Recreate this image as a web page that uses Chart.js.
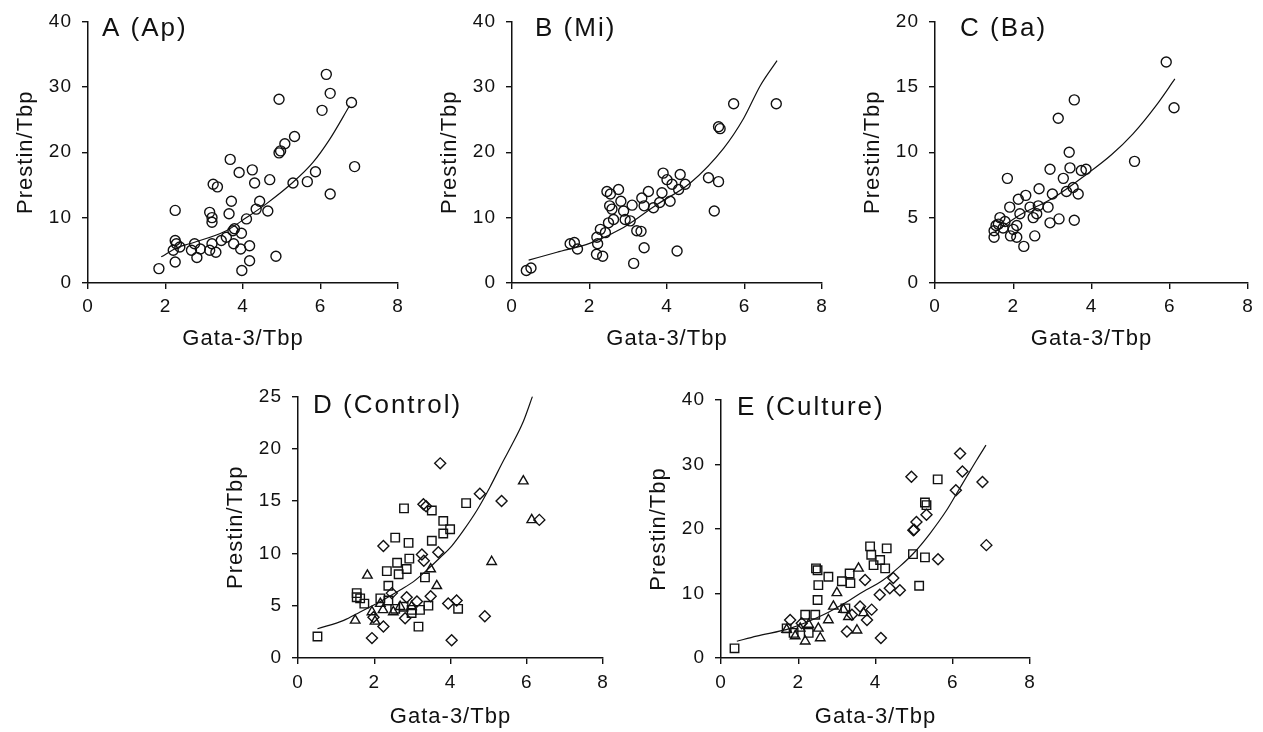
<!DOCTYPE html>
<html>
<head>
<meta charset="utf-8">
<script src="https://cdn.jsdelivr.net/npm/chart.js@4/dist/chart.umd.min.js"></script>
<style>
  body { margin: 0; background: #fff; width: 1263px; height: 732px; overflow: hidden; position: relative; }
  canvas { position: absolute; }
</style>
</head>
<body>
<canvas id="chartA" width="420" height="360" style="left:0;top:0"></canvas>
<canvas id="chartB" width="420" height="360" style="left:424px;top:0"></canvas>
<canvas id="chartC" width="416" height="360" style="left:847px;top:0"></canvas>
<canvas id="chartD" width="420" height="357" style="left:210px;top:375px"></canvas>
<canvas id="chartE" width="420" height="357" style="left:633px;top:375px"></canvas>
<script>
// panel names and axis ranges
const panelNames = ["A (Ap)", "B (Mi)", "C (Ba)", "D (Control)", "E (Culture)"];
const yMaxes = [40, 40, 20, 25, 40];
const ySteps = [10, 10, 5, 5, 10];
const xTitle = "Gata-3/Tbp";
const yTitle = "Prestin/Tbp";

// A (Ap)  [gata, prestin]
const apPts = [[1.83,2.2],[2.25,11.1],[2.25,6.5],[2.28,6.0],[2.2,5.0],[2.25,3.2],[2.37,5.5],[2.67,5.0],[2.75,6.0],
  [2.81,3.9],[2.9,5.2],[3.14,10.8],[3.2,10.0],[3.2,9.3],[3.14,5.0],[3.2,6.0],[3.3,4.7],[3.23,15.1],[3.34,14.7],
  [3.44,6.5],[3.57,7.0],[3.67,18.9],[3.7,12.5],[3.64,10.6],[3.74,8.0],[3.78,8.3],[3.76,6.0],[3.9,16.9],[3.96,7.6],
  [3.94,5.2],[3.97,1.9],[4.09,9.8],[4.17,5.7],[4.17,3.4],[4.24,17.3],[4.3,15.3],[4.43,12.5],[4.34,11.3],[4.64,11.0],
  [4.69,15.8],[4.85,4.1],[4.93,28.1],[4.93,19.9],[4.97,20.2],[5.08,21.3],[5.33,22.4],[5.29,15.3],[5.66,15.5],
  [5.87,17.0],[6.04,26.4],[6.15,31.9],[6.25,29.0],[6.25,13.6],[6.8,27.6],[6.88,17.8]];
const apFit = [[1.89,4.0],[2.3,5.4],[2.62,6.0],[3.57,8.0],[4.09,10.0],[4.6,12.1],[5.29,15.4],[5.8,18.4],[6.24,22.0],[6.75,27.1]];

// B (Mi)
const miPts = [[0.37,1.9],[0.49,2.3],[1.5,6.0],[1.61,6.2],[1.69,5.2],[2.18,4.4],[2.34,4.1],[2.21,6.0],[2.19,7.0],
  [2.28,8.2],[2.41,7.7],[2.49,9.2],[2.45,14.0],[2.54,13.6],[2.75,14.3],[2.52,11.8],[2.58,11.3],[2.81,12.5],[2.62,9.7],
  [2.88,11.0],[2.92,9.7],[3.05,9.5],[3.1,11.9],[3.14,3.0],[3.22,8.0],[3.33,7.9],[3.35,13.0],[3.41,11.8],[3.41,5.4],
  [3.52,14.0],[3.65,11.5],[3.81,12.3],[3.87,13.8],[3.9,16.8],[4.0,15.8],[4.08,12.5],[4.13,15.1],[4.26,4.9],[4.3,14.3],
  [4.34,16.6],[4.47,15.1],[5.07,16.1],[5.33,15.5],[5.22,11.0],[5.33,23.9],[5.37,23.6],[5.72,27.4],[6.82,27.4]];
const miFit = [[0.43,3.5],[1.16,4.7],[2.02,6.1],[2.88,8.5],[3.74,12.0],[4.6,15.3],[5.46,20.6],[5.98,25.2],[6.41,30.2],[6.84,34.0]];

// C (Ba)
const baPts = [[1.51,3.5],[1.51,4.0],[1.56,4.4],[1.66,5.0],[1.62,4.5],[1.74,4.2],[1.79,4.7],[1.85,8.0],[1.91,5.8],
  [1.93,3.6],[2.0,4.1],[2.09,3.5],[2.09,4.4],[2.13,6.4],[2.17,5.3],[2.27,2.8],[2.32,6.7],[2.43,5.8],[2.51,5.0],
  [2.55,3.6],[2.6,5.3],[2.66,7.2],[2.64,5.9],[2.89,5.8],[2.94,4.6],[3.0,6.8],[2.94,8.7],[3.15,12.6],[3.17,4.9],
  [3.28,8.0],[3.36,7.0],[3.43,10.0],[3.45,8.8],[3.53,7.3],[3.56,14.0],[3.56,4.8],[3.66,6.8],[3.74,8.6],[3.86,8.7],
  [5.1,9.3],[5.91,16.9],[6.11,13.4]];
const baFit = [[1.53,3.9],[2.17,5.2],[3.02,6.5],[3.87,8.3],[4.51,9.8],[5.06,11.4],[5.66,13.6],[6.13,15.6]];

// D (Control): squares, triangles, diamonds
const ctlSquare = [[0.51,2.05],[1.54,5.8],[1.63,5.7],[1.54,6.2],[1.74,5.2],[2.33,8.3],[2.37,6.9],[2.55,11.5],[2.6,9.1],
  [2.64,8.0],[2.78,14.3],[2.85,8.5],[2.9,11.0],[2.92,9.5],[2.16,5.7],[2.37,5.5],[2.55,4.7],[2.77,4.9],[2.98,4.6],
  [2.98,4.3],[3.16,3.0],[3.2,4.6],[3.33,7.7],[3.42,5.0],[3.51,14.1],[3.51,11.2],[3.81,13.1],[3.81,11.9],[3.99,12.3],
  [4.2,4.7],[4.41,14.8]];
const ctlTriangle = [[1.5,3.6],[1.82,7.9],[1.94,4.4],[2.02,3.5],[2.16,5.2],[2.23,4.6],[2.5,4.4],[2.68,4.9],[2.98,4.9],
  [3.48,8.5],[3.64,6.9],[5.08,9.2],[5.91,16.9],[6.13,13.2]];
const ctlDiamond = [[1.94,1.9],[1.98,3.9],[2.24,3.0],[2.24,10.7],[2.46,6.2],[2.81,3.8],[2.85,5.8],[3.12,5.4],[3.25,9.9],
  [3.29,14.7],[3.36,14.5],[3.3,9.3],[3.48,5.9],[3.68,10.1],[3.73,18.6],[3.94,5.2],[4.03,1.7],[4.16,5.5],[4.77,15.7],
  [4.9,4.0],[5.34,15.0],[6.33,13.2]];
const ctlFit = [[0.51,2.8],[1.2,3.6],[1.63,4.4],[2.16,5.4],[2.68,6.5],[3.03,7.3],[3.38,8.4],[3.73,9.6],[4.03,10.7],
  [4.34,12.2],[4.69,14.1],[5.03,16.3],[5.38,18.8],[5.6,20.3],[5.91,22.6],[6.15,25.0]];

// E (Culture)
const culSquare = [[0.35,1.5],[1.7,4.6],[1.88,3.9],[2.18,6.7],[2.27,3.9],[2.44,6.7],[2.46,13.9],[2.5,13.6],[2.52,11.3],
  [2.5,9.0],[2.78,12.6],[3.13,11.9],[3.33,13.1],[3.35,11.6],[3.22,7.7],[3.86,17.3],[3.89,16.0],[3.95,14.4],[4.12,15.2],
  [4.25,13.9],[4.29,17.0],[4.97,16.1],[5.28,15.6],[5.13,11.2],[5.28,24.1],[5.32,23.7],[5.61,27.7]];
const culTriangle = [[1.7,4.4],[1.92,3.4],[2.05,4.6],[2.18,2.6],[2.27,5.2],[2.52,4.6],[2.57,3.1],[2.78,5.9],[2.91,8.0],
  [3.0,10.1],[3.17,7.5],[3.3,6.4],[3.52,4.3],[3.56,13.9],[3.69,7.0]];
const culDiamond = [[1.79,5.9],[2.09,5.4],[3.26,4.1],[3.39,6.7],[3.6,8.0],[3.73,12.1],[3.78,5.9],[3.9,7.5],[4.11,9.8],
  [4.14,3.1],[4.37,10.8],[4.46,12.4],[4.63,10.5],[4.93,28.1],[4.98,19.8],[5.0,19.9],[5.06,21.1],[5.32,22.2],[5.62,15.3],
  [6.08,26.0],[6.19,31.7],[6.25,28.9],[6.77,27.3],[6.87,17.5]];
const culFit = [[0.41,2.6],[0.92,3.4],[1.79,4.6],[2.65,6.7],[3.34,9.0],[3.6,10.0],[4.2,12.1],[4.63,14.2],[4.98,16.2],
  [5.41,19.3],[5.84,22.9],[6.1,25.5],[6.36,28.1],[6.62,30.7],[6.86,33.0]];

const ink = "#111";
const fontFam = '"Liberation Sans", Arial, sans-serif';

const toXY = (arr) => arr.map((p) => ({ x: p[0], y: p[1] }));

function marks(arr, style, r) {
  return {
    data: toXY(arr),
    pointStyle: style,
    pointRadius: r,
    pointBorderWidth: 1.4,
    pointBorderColor: ink,
    pointBackgroundColor: "rgba(0,0,0,0)",
    showLine: false,
  };
}

function fitLine(arr) {
  return {
    data: toXY(arr),
    showLine: true,
    borderColor: ink,
    borderWidth: 1.2,
    pointRadius: 0,
    tension: 0.4,
    cubicInterpolationMode: "monotone",
  };
}

// the scanned figure has wide letter spacing
const spacing = {
  id: "spacing",
  beforeDraw(chart) { chart.ctx.letterSpacing = "1px"; },
};

const panelLabel = {
  id: "panelLabel",
  afterDraw(chart, args, opts) {
    const ctx = chart.ctx;
    ctx.save();
    ctx.font = "26px " + fontFam;
    ctx.letterSpacing = "2px";
    ctx.fillStyle = ink;
    ctx.textBaseline = "alphabetic";
    ctx.fillText(opts.text, chart.chartArea.left + opts.dx, opts.y);
    ctx.restore();
  },
};

function axisStyle() {
  return {
    grid: { drawOnChartArea: false, drawTicks: true, tickLength: 6, color: ink, lineWidth: 1.4 },
    border: { display: true, color: ink, width: 1.5 },
  };
}

function makeChart(id, i, datasets, p) {
  new Chart(document.getElementById(id), {
    type: "scatter",
    data: { datasets: datasets },
    plugins: [spacing, panelLabel],
    options: {
      responsive: false,
      animation: false,
      layout: { padding: { top: p.top, right: p.right, left: 0, bottom: 0 } },
      plugins: {
        legend: { display: false },
        tooltip: { enabled: false },
        panelLabel: { text: panelNames[i], dx: p.dx, y: p.labelY },
      },
      scales: {
        x: {
          type: "linear",
          min: 0,
          max: 8,
          ...axisStyle(),
          ticks: { stepSize: 2, color: ink, font: { family: fontFam, size: 19 }, padding: p.tickPad, maxRotation: 0 },
          title: { display: true, text: xTitle, color: ink, font: { family: fontFam, size: 22 }, padding: { top: 0, bottom: p.titlePad } },
          afterFit(s) { s.height = p.xh; },
        },
        y: {
          min: 0,
          max: yMaxes[i],
          ...axisStyle(),
          ticks: { stepSize: ySteps[i], color: ink, font: { family: fontFam, size: 19 }, padding: 10 },
          title: { display: true, text: yTitle, color: ink, font: { family: fontFam, size: 22 }, padding: { top: 13, bottom: 0 } },
          afterFit(s) { s.width = 88; },
        },
      },
    },
  });
}

makeChart("chartA", 0, [marks(apPts, "circle", 5), fitLine(apFit)],
  { top: 19, right: 22, dx: 14, labelY: 36, tickPad: 6, titlePad: 8, xh: 77 });
makeChart("chartB", 1, [marks(miPts, "circle", 5), fitLine(miFit)],
  { top: 19, right: 22, dx: 23, labelY: 36, tickPad: 6, titlePad: 8, xh: 77 });
makeChart("chartC", 2, [marks(baPts, "circle", 5), fitLine(baFit)],
  { top: 20, right: 15, dx: 25, labelY: 36, tickPad: 6, titlePad: 8, xh: 77 });
makeChart("chartD", 3, [marks(ctlSquare, "rect", 6), marks(ctlTriangle, "triangle", 5.5), marks(ctlDiamond, "rectRot", 5.5), fitLine(ctlFit)],
  { top: 20, right: 27, dx: 15, labelY: 38, tickPad: 7, titlePad: 2, xh: 74 });
makeChart("chartE", 4, [marks(culSquare, "rect", 6), marks(culTriangle, "triangle", 5.5), marks(culDiamond, "rectRot", 5.5), fitLine(culFit)],
  { top: 25, right: 23, dx: 16, labelY: 40, tickPad: 7, titlePad: 2, xh: 74 });
</script>
</body>
</html>
